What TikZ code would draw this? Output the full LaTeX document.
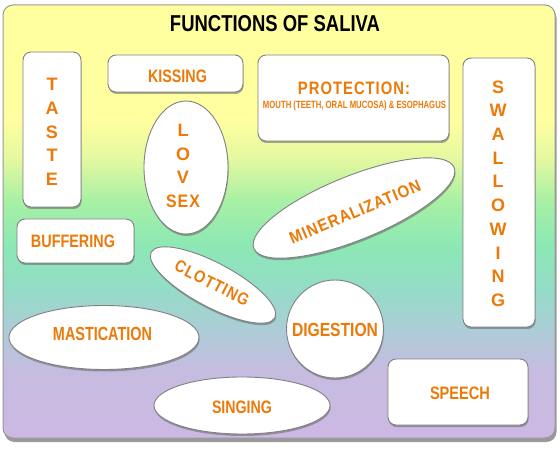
\documentclass[tikz,border=0pt]{standalone}
\usepackage{fontspec}
\usepackage{graphicx}
\setmainfont{Liberation Sans}
\newfontfamily\narfam[FakeStretch=0.8]{Liberation Sans}
\newfontfamily\spcfam[FakeStretch=0.9,LetterSpace=6]{Liberation Sans}
\usetikzlibrary{shapes.geometric,shadows}
\definecolor{lbl}{HTML}{EC7A08}
\definecolor{bgA}{HTML}{FFFFA0}
\definecolor{bgB}{HTML}{E2F8A0}
\definecolor{bgC}{HTML}{A8F0A4}
\definecolor{bgD}{HTML}{8CE8B4}
\definecolor{bgE}{HTML}{94DCC8}
\definecolor{bgF}{HTML}{B0CAD8}
\definecolor{bgG}{HTML}{C6BCE0}
\definecolor{bgH}{HTML}{CDB8E4}
\newcommand\fitw[2]{\resizebox{#1pt}{\height}{#2}}
\newcommand\fnar[1][18]{\narfam\bfseries\fontsize{#1}{#1}\selectfont}
\newcommand\freg[1][18]{\bfseries\fontsize{#1}{#1}\selectfont}
\newcommand\fspc[1][18]{\spcfam\bfseries\fontsize{#1}{#1}\selectfont}
\tikzset{
  shad/.style={drop shadow={shadow xshift=0.6pt,shadow yshift=-2pt,fill=black!60,opacity=0.55}},
  card/.style={shad,draw=black!50,line width=0.9pt,fill=white,rounded corners=8pt,inner sep=0pt},
  oval/.style={shad,ellipse,draw=black!50,line width=0.9pt,fill=white,inner sep=0pt},
  lab/.style={text=lbl,inner sep=0pt,anchor=center},
}
\begin{document}
\begin{tikzpicture}[x=1pt,y=-1pt]
\useasboundingbox (0,0) rectangle (560,449);
% frame shadow
\fill[black!40,rounded corners=10pt] (4.5,8) rectangle (556.5,442);
% background gradient
\begin{scope}
\clip[rounded corners=10pt] (3,5) rectangle (555,438);
\fill[bgA] (0,0) rectangle (560,121);
\shade[top color=bgA,bottom color=bgB] (0,120) rectangle (560,161);
\shade[top color=bgB,bottom color=bgC] (0,160) rectangle (560,201);
\shade[top color=bgC,bottom color=bgD] (0,200) rectangle (560,246);
\shade[top color=bgD,bottom color=bgE] (0,245) rectangle (560,291);
\shade[top color=bgE,bottom color=bgF] (0,290) rectangle (560,336);
\shade[top color=bgF,bottom color=bgG] (0,335) rectangle (560,371);
\shade[top color=bgG,bottom color=bgH] (0,370) rectangle (560,449);
\end{scope}
\node[draw=black!40,line width=1pt,rounded corners=10pt,minimum width=552,minimum height=433,inner sep=0pt] (frame) at (279,221.5) {};

% title
\node[inner sep=0pt] (title) at (275,24) {\fitw{210}{\fnar[23]FUNCTIONS OF SALIVA}};

% rectangles
\node[card,minimum width=58,minimum height=155] (taste) at (52,129.5) {};
\node[card,minimum width=135,minimum height=37] (kissing) at (175.5,73.5) {};
\node[card,minimum width=191,minimum height=86] (protection) at (353.5,98) {};
\node[card,minimum width=72,minimum height=269] (swallowing) at (499,192.5) {};
\node[card,minimum width=117,minimum height=44] (buffering) at (75.5,241) {};
\node[card,minimum width=140,minimum height=66] (speech) at (458,392) {};

% ellipses
\node[oval,minimum width=84,minimum height=133] (lovsex) at (186,167.5) {};
\node[oval,minimum width=216,minimum height=64,rotate=22] (mineral) at (354,208) {};
\node[oval,minimum width=140,minimum height=44,rotate=-28] (clotting) at (213,285) {};
\node[oval,minimum width=97,minimum height=98] (digestion) at (335,329) {};
\node[oval,minimum width=190,minimum height=64] (mastication) at (104,337.5) {};
\node[oval,minimum width=176,minimum height=57] (singing) at (242,405.5) {};

% labels
\foreach \l [count=\i] in {T,A,S,T,E}
  \node[lab] (taste\i) at (52,{84.5+23.75*(\i-1)}) {\freg \l};
\foreach \l [count=\i] in {S,W,A,L,L,O,W,I,N,G}
  \node[lab] (swal\i) at (498,{87+23.7*(\i-1)}) {\freg \l};
\node[lab] (lov1) at (183,130) {\freg L};
\node[lab] (lov2) at (183,154) {\freg O};
\node[lab] (lov3) at (183,177) {\freg V};
\node[lab] (lov4) at (183,201) {\fitw{34}{\fspc SEX}};
\node[lab] (kisst) at (177.5,76) {\fitw{59}{\fnar KISSING}};
\node[lab] (prott) at (354,88) {\fitw{112}{\fspc PROTECTION:}};
\node[lab] (prots) at (354.5,106) {\fitw{183}{\freg[10.5]MOUTH (TEETH, ORAL MUCOSA) \& ESOPHAGUS}};
\node[lab,rotate=23] (minert) at (355,212) {\fitw{141}{\fspc[17]MINERALIZATION}};
\node[lab,rotate=-27] (clott) at (212,283) {\fitw{81}{\fspc[17]CLOTTING}};
\node[lab] (bufft) at (73,241) {\fitw{84}{\fnar BUFFERING}};
\node[lab] (digt) at (335,330) {\fitw{86}{\fnar[19]DIGESTION}};
\node[lab] (mastt) at (102.5,334) {\fitw{99}{\fnar[19]MASTICATION}};
\node[lab] (singt) at (242,407) {\fitw{60}{\fnar SINGING}};
\node[lab] (speecht) at (460,393) {\fitw{60}{\fnar SPEECH}};
\end{tikzpicture}
\end{document}
